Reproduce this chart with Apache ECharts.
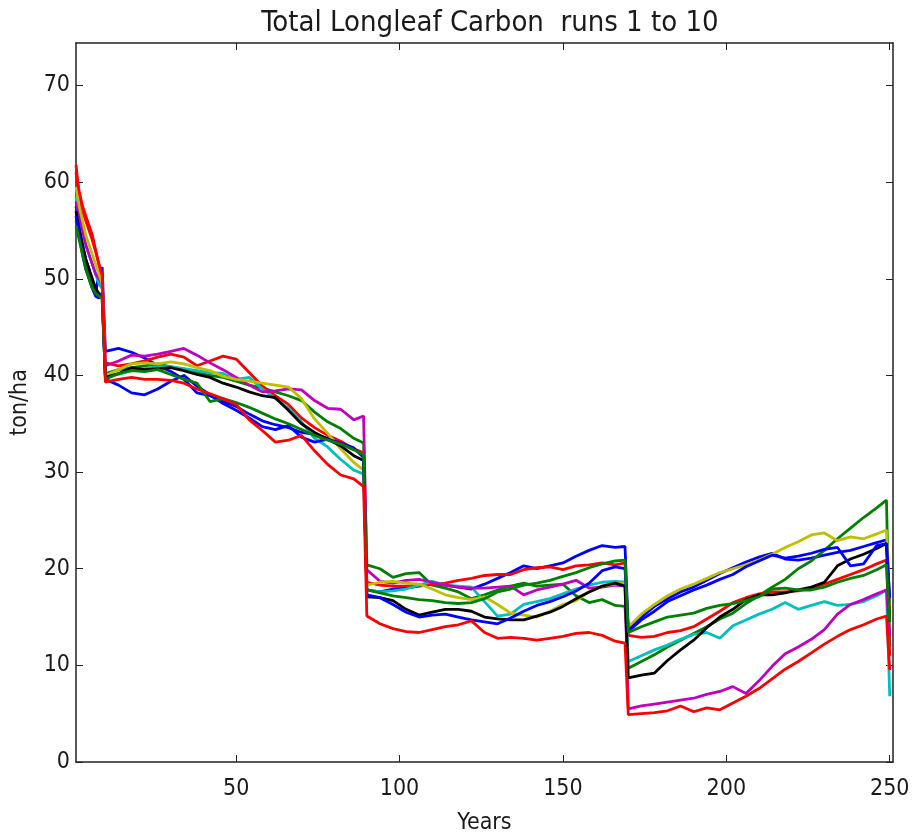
<!DOCTYPE html>
<html>
<head>
<meta charset="utf-8">
<script src="https://cdn.jsdelivr.net/npm/echarts@6/dist/echarts.min.js"></script>
<style>
  html, body { margin: 0; padding: 0; background: #fff; }
  #chart { width: 915px; height: 840px; }
</style>
</head>
<body>
<div id="chart"></div>
<script>
// sampled years (drops at 10, 90, 170, 250)
const years = [1, 2, 3, 4, 5, 6, 7, 8, 9,
  10, 14, 18, 22, 26, 30, 34, 38, 42, 46, 50, 54, 58, 62, 66, 70, 74, 78, 82, 86, 89,
  90, 94, 98, 102, 106, 110, 114, 118, 122, 126, 130, 134, 138, 142, 146, 150, 154, 158, 162, 166, 169,
  170, 174, 178, 182, 186, 190, 194, 198, 202, 206, 210, 214, 218, 222, 226, 230, 234, 238, 242, 246, 249, 250];

const run1 = [57.5, 55.5, 53.5, 52, 51, 49.5, 48.5, 50.5, 51.2,
  42.5, 42.8, 42.4, 41.8, 41.0, 40.4, 39.6, 38.2, 37.9, 37.3, 36.8, 36.0, 35.3, 34.9, 34.6, 34.1, 33.9, 33.5, 33.0, 32.4, 31.8,
  17.8, 17.6, 17.9, 18.0, 18.2, 18.4, 18.3, 18.1, 17.9, 18.4, 19.0, 19.6, 20.3, 20.0, 20.3, 20.6, 21.3, 21.9, 22.4, 22.2, 22.3,
  13.7, 15.0, 16.1, 16.9, 17.6, 18.1, 18.8, 19.5, 20.1, 20.7, 21.2, 21.6, 21.0, 20.9, 21.1, 21.4, 21.7, 21.9, 22.3, 22.7, 23.0, 16.5];
const run2 = [56, 54.5, 53, 51.5, 50.5, 49.5, 48.5, 48.2, 48.5,
  40.2, 40.6, 40.8, 41.0, 41.2, 40.9, 40.6, 40.3, 40.0, 39.8, 39.4, 39.0, 38.7, 38.3, 37.9, 37.4, 36.2, 35.2, 34.5, 33.5, 33.0,
  20.4, 20.0, 19.1, 19.5, 19.6, 18.3, 18.0, 17.6, 16.9, 17.3, 17.8, 18.2, 18.5, 18.2, 18.3, 18.4, 17.2, 16.5, 16.8, 16.2, 16.1,
  9.7, 10.4, 11.1, 11.9, 12.6, 13.3, 14.0, 14.8, 15.4, 16.4, 17.2, 18.1, 18.9, 20.0, 20.8, 21.9, 23.1, 24.2, 25.3, 26.3, 27.1, 12.0];
const run3 = [61.8, 58.5, 57, 56, 55, 54, 52.8, 51.5, 50.2,
  41.3, 41.0, 41.2, 41.5, 41.9, 42.2, 41.9, 41.0, 41.5, 42.0, 41.7, 40.3, 38.9, 37.9, 37.0, 35.6, 34.6, 33.8, 33.2, 32.4, 32.0,
  18.6, 18.3, 18.2, 18.2, 18.3, 18.4, 18.5, 18.8, 19.0, 19.3, 19.4, 19.4, 19.9, 20.1, 20.2, 19.9, 20.3, 20.4, 20.6, 20.4, 20.6,
  13.1, 12.9, 13.0, 13.4, 13.6, 14.0, 14.8, 15.6, 16.5, 17.0, 17.4, 17.6, 17.6, 17.7, 18.0, 18.4, 18.9, 19.4, 19.9, 20.5, 20.9, 11.0];
const run4 = [58.5, 56.5, 55, 53.5, 52.5, 51.5, 50.5, 49.5, 49,
  39.8, 40.1, 40.5, 40.7, 40.9, 40.9, 40.7, 40.5, 40.3, 40.2, 39.6, 39.8, 38.6, 37.6, 36.6, 35.2, 33.5, 32.6, 31.3, 30.2, 29.8,
  17.8, 17.6, 17.7, 17.9, 18.3, 18.7, 18.3, 18.2, 18.1, 16.6, 15.1, 15.3, 16.3, 16.6, 16.9, 17.4, 17.9, 18.3, 18.6, 18.7, 18.6,
  10.4, 11.0, 11.6, 12.1, 12.7, 13.2, 13.4, 12.8, 14.1, 14.7, 15.3, 15.8, 16.5, 15.8, 16.2, 16.6, 16.2, 16.3, 16.6, 17.2, 17.8, 6.8];
const run5 = [58, 56.5, 55, 53.5, 52.5, 51.5, 50.5, 50, 49.5,
  41.0, 41.5, 42.1, 42.0, 42.2, 42.5, 42.8, 42.1, 41.3, 40.6, 39.8, 39.0, 38.3, 38.4, 38.6, 38.5, 37.4, 36.6, 36.5, 35.4, 35.8,
  19.9, 18.7, 18.5, 18.8, 18.9, 18.6, 18.3, 18.1, 18.0, 18.0, 18.1, 18.2, 17.3, 17.8, 18.1, 18.4, 18.8, 18.0, 18.1, 18.3, 18.2,
  5.5, 5.8, 6.0, 6.2, 6.4, 6.6, 7.0, 7.3, 7.8, 7.1, 8.4, 9.9, 11.2, 11.9, 12.7, 13.7, 15.3, 16.3, 16.8, 17.4, 17.8, 13.0];
const run6 = [59.5, 57.5, 56, 54.5, 53.5, 52.5, 51.5, 50.5, 49.5,
  40.0, 40.6, 41.2, 41.3, 41.2, 41.4, 41.2, 40.8, 40.5, 39.9, 39.6, 39.4, 39.2, 39.0, 38.8, 37.6, 35.5, 34.0, 32.4, 31.0, 30.2,
  18.3, 18.6, 18.7, 18.5, 18.4, 17.9, 17.3, 17.0, 16.8, 17.1, 16.3, 15.4, 15.2, 15.0, 15.6, 16.3, 16.7, 17.6, 18.2, 18.4, 18.5,
  14.0, 15.3, 16.3, 17.2, 17.9, 18.4, 19.0, 19.6, 20.0, 20.4, 20.9, 21.5, 22.2, 22.8, 23.5, 23.7, 22.9, 23.3, 23.1, 23.6, 24.0, 15.5];
const run7 = [57, 55, 53.5, 52, 51, 50, 49, 48.5, 48,
  39.8, 40.2, 40.8, 40.6, 40.7, 40.8, 40.5, 40.1, 39.8, 39.2, 38.8, 38.3, 37.9, 37.7, 36.4, 35.0, 34.1, 33.4, 32.7, 31.7, 31.2,
  17.1, 17.0, 16.7, 15.8, 15.2, 15.5, 15.8, 15.8, 15.6, 15.0, 14.8, 14.7, 14.7, 15.1, 15.5, 16.1, 16.9, 17.6, 18.2, 18.5, 18.2,
  8.7, 9.0, 9.2, 10.5, 11.6, 12.6, 13.9, 15.0, 15.8, 16.8, 17.3, 17.3, 17.5, 17.8, 18.1, 18.6, 20.3, 21.0, 21.5, 22.1, 22.6, 14.5];
const run8 = [56.5, 54.5, 52.5, 51, 50, 49, 48.2, 48, 48.5,
  39.6, 39.0, 38.2, 38.0, 38.6, 39.4, 40.0, 38.9, 38.0, 37.1, 36.4, 35.6, 34.7, 34.4, 34.8, 33.6, 33.1, 33.4, 33.0, 32.5, 31.5,
  17.3, 17.0, 16.3, 15.5, 15.0, 15.2, 15.3, 15.0, 14.7, 14.5, 14.3, 14.9, 15.6, 16.2, 16.6, 17.1, 17.7, 18.5, 19.8, 20.2, 20.0,
  13.5, 14.7, 15.6, 16.6, 17.2, 17.8, 18.3, 18.9, 19.4, 20.2, 20.8, 21.4, 21.1, 21.3, 21.6, 22.0, 22.2, 20.3, 20.5, 22.4, 22.6, 17.0];
const run9 = [55.5, 54, 52.5, 51, 50, 49, 48.5, 48.2, 48,
  39.6, 40.2, 40.5, 40.4, 40.6, 40.1, 39.6, 39.2, 37.3, 37.6, 37.2, 36.7, 36.1, 35.5, 35.0, 34.4, 33.8, 33.3, 32.9, 32.3, 31.8,
  17.8, 17.5, 17.2, 17.0, 16.8, 16.7, 16.5, 16.4, 16.5, 16.9, 17.6, 17.9, 18.3, 18.5, 18.8, 19.2, 19.6, 20.1, 20.5, 20.8, 20.9,
  13.4, 14.0, 14.5, 15.0, 15.2, 15.4, 15.9, 16.2, 16.4, 16.7, 17.1, 17.9, 18.0, 17.8, 17.8, 18.1, 18.6, 19.0, 19.3, 19.9, 20.4, 14.5];
const run10 = [61, 59, 57.5, 56.5, 55.5, 54.5, 53, 51.5, 50.5,
  39.3, 39.6, 39.8, 39.6, 39.6, 39.5, 39.2, 38.6, 38.1, 37.6, 37.0, 35.4, 34.3, 33.1, 33.3, 33.8, 32.2, 30.8, 29.7, 29.3, 28.5,
  15.1, 14.3, 13.8, 13.5, 13.4, 13.7, 14.0, 14.2, 14.6, 13.4, 12.8, 12.9, 12.8, 12.6, 12.8, 13.0, 13.3, 13.4, 13.1, 12.5, 12.3,
  4.9, 5.0, 5.1, 5.3, 5.8, 5.2, 5.6, 5.4, 6.1, 6.8, 7.6, 8.6, 9.6, 10.4, 11.3, 12.2, 13.0, 13.7, 14.2, 14.8, 15.1, 9.5];

const runs = [run1, run2, run3, run4, run5, run6, run7, run8, run9, run10];
// matplotlib classic colour cycle b g r c m y k
const colors = ['#0000ff', '#008000', '#ff0000', '#00bfbf', '#bf00bf', '#bfbf00', '#000000', '#0000ff', '#008000', '#ff0000'];
const xTicks = [50, 100, 150, 200, 250];
const yTicks = [0, 10, 20, 30, 40, 50, 60, 70];

const font = "'DejaVu Sans Condensed', 'Liberation Sans Narrow', 'DejaVu Sans'";
const ink = '#1a1a1a';
const frame = { show: true, onZero: false, lineStyle: { color: '#222', width: 1.5 } };
const tickIn = { show: true, inside: true, length: 7, lineStyle: { color: '#222', width: 1 } };

const chart = echarts.init(document.getElementById('chart'));
chart.setOption({
  animation: false,
  color: colors,
  title: {
    text: 'Total Longleaf Carbon  runs 1 to 10',
    left: 485, top: 4, textAlign: 'center',
    textStyle: { fontFamily: font, fontWeight: 'normal', fontSize: 29, color: ink }
  },
  grid: { left: 76, right: 22, top: 43, bottom: 78 },
  xAxis: [{
    type: 'value', min: 1, max: 251, position: 'bottom',
    name: 'Years', nameLocation: 'middle', nameGap: 50,
    nameTextStyle: { fontFamily: font, fontSize: 23, color: ink },
    axisLine: frame,
    axisTick: { ...tickIn, customValues: xTicks },
    axisLabel: { customValues: xTicks, margin: 16, fontFamily: font, fontSize: 23, color: ink },
    splitLine: { show: false }
  }, {
    type: 'value', min: 1, max: 251, position: 'top',
    axisLine: frame,
    axisTick: { ...tickIn, customValues: xTicks },
    axisLabel: { show: false },
    splitLine: { show: false }
  }],
  yAxis: [{
    type: 'value', min: 0, max: 74.4, position: 'left',
    name: 'ton/ha', nameLocation: 'middle', nameGap: 44, nameRotate: 90,
    nameTextStyle: { fontFamily: font, fontSize: 23, color: ink },
    axisLine: frame,
    axisTick: { ...tickIn, customValues: yTicks },
    axisLabel: { customValues: yTicks, margin: 6, fontFamily: font, fontSize: 23, color: ink },
    splitLine: { show: false }
  }, {
    type: 'value', min: 0, max: 74.4, position: 'right',
    axisLine: frame,
    axisTick: { ...tickIn, customValues: yTicks },
    axisLabel: { show: false },
    splitLine: { show: false }
  }],
  series: runs.map((vals, i) => ({
    name: 'run ' + (i + 1),
    type: 'line',
    xAxisIndex: 0, yAxisIndex: 0,
    showSymbol: false,
    lineStyle: { width: 2.8, color: colors[i] },
    data: years.map((x, j) => [x, vals[j]])
  }))
});
</script>
</body>
</html>
